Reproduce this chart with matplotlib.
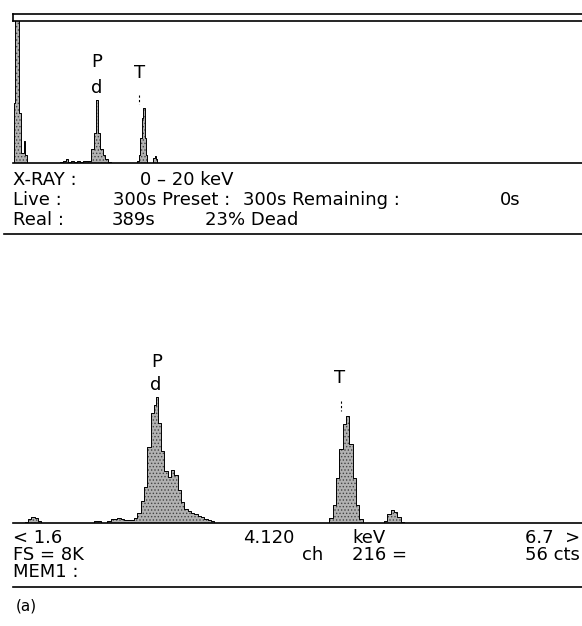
#!usr/bin/python3

# Libraries
import numpy as np
import matplotlib
matplotlib.use("Agg")
import matplotlib.pyplot as plt
from matplotlib.lines import Line2D

W, H = 582, 626

# Dataset - overview spectrum 0 - 20 keV (energy in keV, counts)
Etop = [0.00, 0.05, 0.10, 0.15, 0.20, 0.25, 0.30, 0.35, 0.40, 0.45, 0.50,
        1.60, 1.70, 1.80, 1.90, 2.00, 2.10, 2.20, 2.30, 2.40, 2.50, 2.60,
        2.70, 2.80, 2.90, 2.95, 3.00, 3.10, 3.20, 3.30, 3.40, 3.50,
        4.35, 4.40, 4.45, 4.50, 4.55, 4.60, 4.65, 4.70, 4.75,
        4.90, 4.95, 5.00, 5.05, 5.10]
Ctop = [0, 3400, 9000, 9000, 9000, 2800, 560, 560, 1240, 450, 0,
        0, 60, 110, 200, 60, 110, 60, 110, 60, 110, 110,
        110, 790, 1690, 3550, 1690, 790, 450, 225, 60, 0,
        0, 110, 450, 1400, 2530, 3100, 1400, 450, 0,
        0, 280, 390, 225, 0]

# Dataset - expanded spectrum 1.6 - 6.7 keV
Ebot = [1.69, 1.72, 1.75, 1.78, 1.81, 1.84, 1.87,
        2.31, 2.34, 2.37, 2.40,
        2.43, 2.46, 2.49, 2.52, 2.55, 2.58, 2.61, 2.64, 2.67, 2.70, 2.73,
        2.76, 2.79, 2.82, 2.85, 2.875, 2.89, 2.91, 2.94, 2.97, 3.00, 3.03, 3.06,
        3.09, 3.12, 3.15, 3.18, 3.21, 3.24, 3.27, 3.30, 3.33, 3.36, 3.39, 3.42,
        4.42, 4.45, 4.48, 4.51, 4.54, 4.57, 4.60, 4.63, 4.66, 4.69, 4.72, 4.75,
        4.91, 4.94, 4.97, 5.00, 5.03, 5.06, 5.09, 5.12]
Cbot = [0, 45, 175, 260, 220, 90, 0,
        0, 90, 90, 0,
        0, 90, 175, 175, 220, 175, 130, 130, 130, 220, 440,
        1000, 1600, 3380, 4890, 5250, 5600, 4440, 3200, 2310, 2040, 2350, 2130,
        1470, 930, 620, 530, 440, 400, 330, 260, 200, 130, 90, 0,
        0, 220, 790, 1980, 3300, 4400, 4750, 3520, 1980, 790, 175, 0,
        0, 90, 400, 570, 480, 260, 45, 0]

# Readout text rows
topRows = [[("X-RAY :", 13), ("0 \u2013 20 keV", 140)],
           [("Live :", 13), ("300s Preset :", 113), ("300s Remaining :", 243), ("0s", 500)],
           [("Real :", 13), ("389s", 112), ("23% Dead", 205)]]
botRows = [[("< 1.6", 13), ("4.120", 243), ("keV", 352), ("6.7  >", 525)],
           [("FS = 8K", 13), ("ch", 302), ("216 =", 352), ("56 cts", 525)],
           [("MEM1 :", 13)]]

plt.rcParams['font.family'] = ['DejaVu Sans']
plt.rcParams['hatch.linewidth'] = 0.6
fig = plt.figure(figsize=(W / 100, H / 100), dpi=100)

# helpers for pixel placement
def fx(x):
    return x / W

def fy(y):
    return 1 - y / H

def hline(y, x0, x1, lw=1.2):
    fig.add_artist(Line2D([fx(x0), fx(x1)], [fy(y), fy(y)], color='black', lw=lw))

def spectrum(ax, E, C):
    # stippled grey fill with a black outline
    ax.fill_between(E, C, step='mid', facecolor='#b2b2b2', edgecolor='#444444',
                    hatch='.....', linewidth=0)
    ax.plot(E, C, drawstyle='steps-mid', color='black', lw=0.7)
    for s in ax.spines.values():
        s.set_visible(False)
    ax.set_xticks([])
    ax.set_yticks([])

# Top panel
ax1 = fig.add_axes([fx(13), fy(163), fx(582) - fx(13), fy(21) - fy(163)])
spectrum(ax1, Etop, Ctop)
ax1.set_xlim(0, 20)
ax1.set_ylim(0, 8000)
hline(163, 13, 582)
hline(21, 13, 582)
hline(14, 13, 582)
fig.add_artist(Line2D([fx(13), fx(13)], [fy(14), fy(21)], color='black', lw=1.2))

# Bottom panel
ax2 = fig.add_axes([fx(13), fy(523), fx(582) - fx(13), fy(343) - fy(523)])
spectrum(ax2, Ebot, Cbot)
ax2.set_xlim(1.6, 6.7)
ax2.set_ylim(0, 8000)
hline(523, 13, 582)

# Element labels
fs = 13
for txt, x, y in [("P", 97, 62), ("d", 97, 88), ("T", 140, 73),
                  ("P", 157, 362), ("d", 156, 385), ("T", 340, 378)]:
    fig.text(fx(x), fy(y), txt, ha='center', va='center', fontsize=fs)
fig.add_artist(Line2D([fx(139), fx(139)], [fy(95), fy(104)], color='black', lw=0.8, ls=(0, (2, 2))))
fig.add_artist(Line2D([fx(341), fx(341)], [fy(401), fy(411)], color='black', lw=0.8, ls=(0, (2, 2))))

# Readout text
for rows, y0, dy in [(topRows, 180, 20), (botRows, 538, 17)]:
    for i, row in enumerate(rows):
        for txt, x in row:
            fig.text(fx(x), fy(y0 + i * dy), txt, ha='left', va='center', fontsize=fs)

hline(234, 4, 582)
hline(587, 13, 582)
fig.text(fx(16), fy(606), "(a)", ha='left', va='center', fontsize=11)

plt.savefig("out.png", dpi=100)
